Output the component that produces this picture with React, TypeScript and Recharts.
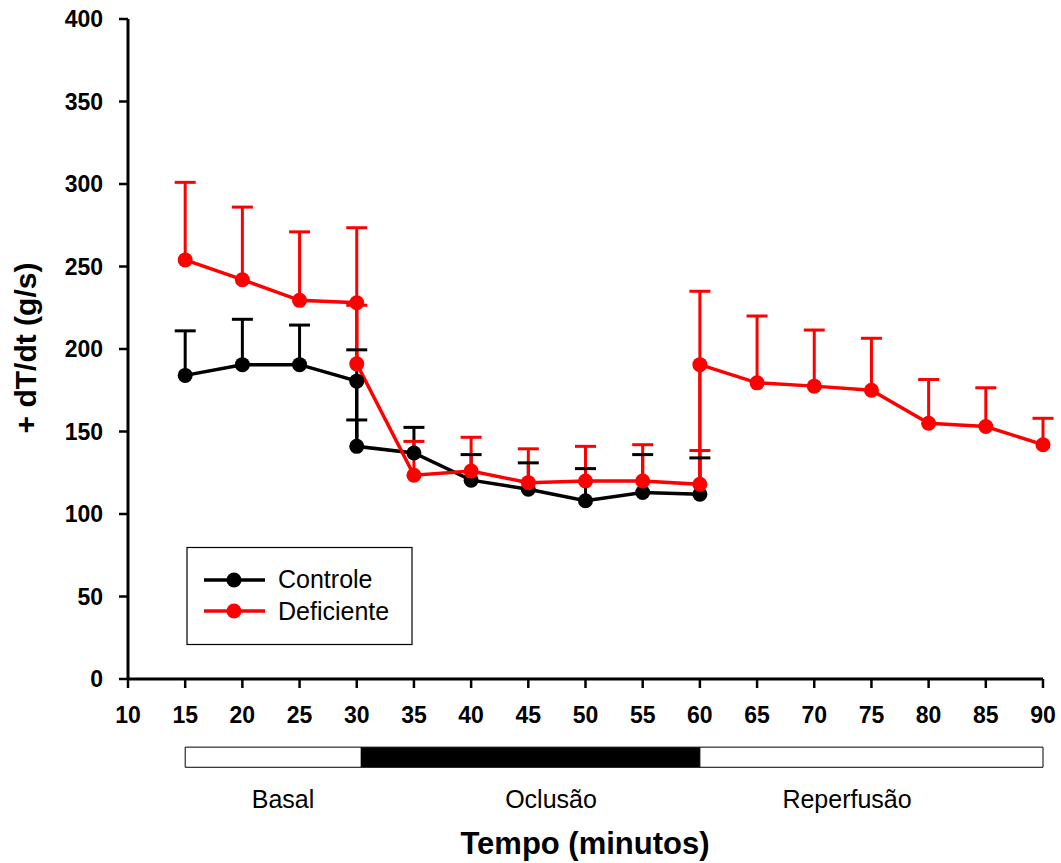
import React from "react";
import { ComposedChart, Line, Scatter, ErrorBar, XAxis, YAxis, ReferenceArea } from "recharts";

const FONT = "'Liberation Sans', Arial, sans-serif";

const X_TICKS = [10, 15, 20, 25, 30, 35, 40, 45, 50, 55, 60, 65, 70, 75, 80, 85, 90];
const Y_TICKS = [0, 50, 100, 150, 200, 250, 300, 350, 400];

// Controle
const controleX = [15, 20, 25, 30, 30, 35, 40, 45, 50, 55, 60];
const controleY = [184, 190.5, 190.5, 180.5, 141, 137, 120.5, 115, 108, 113, 112];
const controleErr = [27, 27.5, 24, 19, 16, 15.5, 15.5, 16, 19.5, 23, 22];

// Deficiente
const deficienteX = [15, 20, 25, 30, 30, 35, 40, 45, 50, 55, 60, 60, 65, 70, 75, 80, 85, 90];
const deficienteY = [254, 242, 229.5, 228, 191, 123.5, 126, 119, 120, 120, 118, 190.5, 179.5, 177.5, 175, 155, 153, 142];
const deficienteErr = [47, 44, 41.5, 45.5, 35.5, 20.5, 20.5, 20.5, 21, 22, 20.5, 44.5, 40.5, 34, 31.5, 26.5, 23.5, 16];

// protocol phases (minutes)
const phaseLabels = ["Basal", "Oclusão", "Reperfusão"];
const phaseStart = [15, 30.4, 60];
const phaseEnd = [30.4, 60, 90];
const phaseFill = ["#ffffff", "#000000", "#ffffff"];

const build = (xs: number[], ys: number[], errs: number[]) =>
  xs.map((x, i) => ({ x, y: ys[i], err: [0, errs[i]] as [number, number], top: ys[i] + errs[i] }));

const controle = build(controleX, controleY, controleErr);
const deficiente = build(deficienteX, deficienteY, deficienteErr);

const TICK = { fontSize: 23, fontWeight: 700, fontFamily: FONT, fill: "#000" };

function Cap(color: string) {
  return (p: any) => (
    <line x1={p.cx - 10.5} x2={p.cx + 10.5} y1={p.cy} y2={p.cy} stroke={color} strokeWidth={3} />
  );
}

export default function App() {
  return (
    <div style={{ position: "absolute", left: 0, top: 0, width: 1061, height: 863, background: "#fff", fontFamily: FONT }}>
      <ComposedChart width={1061} height={863} margin={{ top: 19, right: 18, bottom: 144, left: 68 }}>
        <XAxis
          type="number"
          dataKey="x"
          domain={[10, 90]}
          ticks={X_TICKS}
          interval={0}
          height={40}
          tick={TICK}
          tickSize={9}
          tickMargin={19}
          axisLine={{ stroke: "#000", strokeWidth: 3 }}
          tickLine={{ stroke: "#000", strokeWidth: 2.5 }}
        />
        <YAxis
          type="number"
          domain={[0, 400]}
          ticks={Y_TICKS}
          interval={0}
          width={60}
          tick={TICK}
          tickSize={9}
          tickMargin={16}
          axisLine={{ stroke: "#000", strokeWidth: 3 }}
          tickLine={{ stroke: "#000", strokeWidth: 2.5 }}
        />
        {phaseLabels.map((p, i) => (
          <ReferenceArea
            key={p}
            x1={phaseStart[i]}
            x2={phaseEnd[i]}
            y1={-53.5}
            y2={-41.3}
            ifOverflow="visible"
            fill={phaseFill[i]}
            fillOpacity={1}
            stroke="#000"
            strokeWidth={1}
          />
        ))}
        <Scatter data={controle} dataKey="top" shape={Cap("#000")} isAnimationActive={false} />
        <Line
          data={controle}
          dataKey="y"
          stroke="#000"
          strokeWidth={3.5}
          dot={{ r: 7.5, fill: "#000", stroke: "none" }}
          isAnimationActive={false}
        >
          <ErrorBar dataKey="err" direction="y" width={0} stroke="#000" strokeWidth={3} />
        </Line>
        <Scatter data={deficiente} dataKey="top" shape={Cap("#ff0000")} isAnimationActive={false} />
        <Line
          data={deficiente}
          dataKey="y"
          stroke="#ff0000"
          strokeWidth={3.5}
          dot={{ r: 7.5, fill: "#ff0000", stroke: "none" }}
          isAnimationActive={false}
        >
          <ErrorBar dataKey="err" direction="y" width={0} stroke="#ff0000" strokeWidth={3} />
        </Line>
      </ComposedChart>

      <svg width={1061} height={863} style={{ position: "absolute", left: 0, top: 0, pointerEvents: "none" }}>
        <text
          transform="translate(36 348) rotate(-90)"
          textAnchor="middle"
          fontFamily={FONT}
          fontWeight={700}
          fontSize={30}
          fill="#000"
        >
          + dT/dt (g/s)
        </text>
        <text x={283} y={808} textAnchor="middle" fontFamily={FONT} fontSize={25} fill="#000">{phaseLabels[0]}</text>
        <text x={551} y={808} textAnchor="middle" fontFamily={FONT} fontSize={25} fill="#000">{phaseLabels[1]}</text>
        <text x={847} y={808} textAnchor="middle" fontFamily={FONT} fontSize={25} fill="#000">{phaseLabels[2]}</text>
        <text x={585} y={854} textAnchor="middle" fontFamily={FONT} fontWeight={700} fontSize={31} fill="#000">
          Tempo (minutos)
        </text>

        {/* legend */}
        <rect x={187} y={547.5} width={225} height={97} fill="#fff" stroke="#000" strokeWidth={1.2} />
        <line x1={204} x2={265} y1={580} y2={580} stroke="#000" strokeWidth={3.5} />
        <circle cx={234} cy={580} r={7.5} fill="#000" />
        <text x={278} y={588} fontFamily={FONT} fontSize={25} fill="#000">Controle</text>
        <line x1={204} x2={265} y1={611} y2={611} stroke="#ff0000" strokeWidth={3.5} />
        <circle cx={234} cy={611} r={7.5} fill="#ff0000" />
        <text x={278} y={620} fontFamily={FONT} fontSize={25} fill="#000">Deficiente</text>
      </svg>
    </div>
  );
}
